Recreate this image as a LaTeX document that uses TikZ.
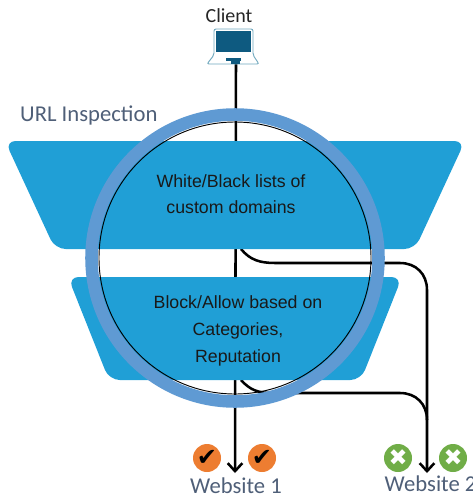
\documentclass[tikz,border=0pt]{standalone}
\usepackage{fontspec}
\setmainfont{Liberation Sans}
\newfontfamily\labelfont{Carlito}
\newfontfamily\iconfont{DejaVu Sans}
\usepackage{tikz}
\usetikzlibrary{arrows.meta}
\definecolor{filterblue}{HTML}{209FD6}
\definecolor{ringblue}{HTML}{5F9AD3}
\definecolor{slatetext}{HTML}{4F5F78}
\definecolor{okorange}{HTML}{ED7D31}
\definecolor{badgreen}{HTML}{70AD47}
\definecolor{screenblue}{HTML}{0E5A80}
\definecolor{caseblue}{HTML}{6FA8BE}
\tikzset{>/.tip={Straight Barb[length=6pt,width=11pt,line width=1.9pt]},
  flow/.style={black,line width=1.9pt},
  filter/.style={fill=filterblue,rounded corners=8pt},
  filtertext/.style={font=\fontsize{13.3}{20}\selectfont,align=center,text=black!90},
  site/.style={font=\fontsize{17}{17}\labelfont,text=slatetext},
  okbadge/.style={circle,fill=okorange,minimum size=21pt,inner sep=0pt,font=\fontsize{18}{18}\iconfont,text=black},
  badbadge/.style={circle,fill=badgreen,minimum size=21pt,inner sep=0pt,font=\fontsize{17}{17}\iconfont,text=white}}

\begin{document}
\begin{tikzpicture}[x=0.75pt,y=-0.75pt]
\useasboundingbox (0,0) rectangle (473,496);
\coordinate (laptopfoot) at (236,64);
\coordinate (hub) at (235,258);
\coordinate (topout) at (241,249);
\coordinate (lowout) at (241,380);
\coordinate (arrive1) at (235,473);
\coordinate (arrive2) at (427,473);

% connectors go under the filters
\draw[flow,->] (laptopfoot) to (arrive1);
\draw[flow,->] (topout) .. controls (250,260) and (260,263) .. (275,263) -- (400,263) .. controls (416,263) and (427,274) .. (427,290) -- (arrive2);
\draw[flow] (lowout) .. controls (250,390) and (258,393) .. (272,393) -- (400,393) .. controls (416,393) and (427,404) .. (427,420);

\fill[filter] (5,141) -- (465,141) -- (415,249) -- (55,249) -- cycle;
\fill[filter] (68,277) -- (402,277) -- (361,380) -- (109,380) -- cycle;

\node[filtertext] (toptext) at (231,194) {White/Black lists of\\custom domains};
\node[filtertext] (lowtext) at (238,331) {Block/Allow based on\\Categories,\\Reputation};

\draw[black,line width=0.7pt] (hub) circle[radius=136];
\draw[ringblue,line width=9.4pt] (hub) circle[radius=143.5];

% laptop
\draw[caseblue,fill=white,line width=0.7pt,rounded corners=1.5pt] (214,55) -- (214,29) -- (253,29) -- (253,55) -- (259,64) -- (207,64) -- cycle;
\fill[screenblue] (216,31) rectangle (251,52);
\fill[screenblue] (226,58) rectangle (241,61);
\fill[screenblue] (231,61) rectangle (240,64);

\node[font=\fontsize{15}{15}\labelfont,text=black!85] (client) at (229,16) {Client};
\node[font=\fontsize{17}{17}\labelfont,text=slatetext,anchor=west] (urlinsp) at (15.5,115) {URL Inspection};

\node[okbadge] (ok1) at (207,458) {\char"2714};
\node[okbadge] (ok2) at (262,458) {\char"2714};
\node[badbadge] (bad1) at (398,458) {\char"2716};
\node[badbadge] (bad2) at (453,458) {\char"2716};

\node[site] (web1) at (236,486) {Website 1};
\node[site,anchor=west] (web2) at (380,484) {Website 2};
\end{tikzpicture}
\end{document}
